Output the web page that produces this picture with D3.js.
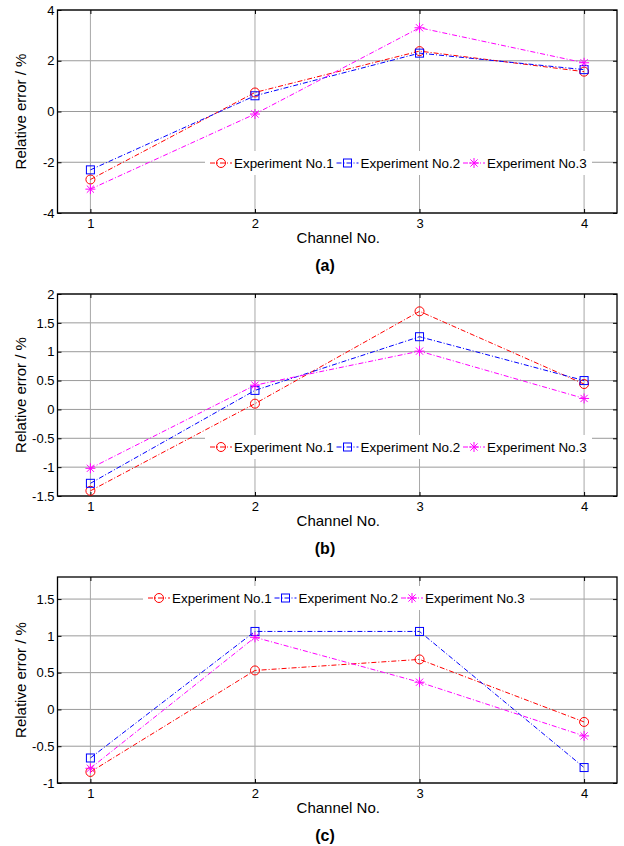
<!DOCTYPE html>
<html>
<head>
<meta charset="utf-8">
<script src="https://cdn.jsdelivr.net/npm/d3@7/dist/d3.min.js"></script>
<style>
  html, body { margin: 0; padding: 0; background: #fff; }
  svg { display: block; }
  text { font-family: "Liberation Sans", Arial, sans-serif; fill: #000; }
</style>
</head>
<body>
<svg id="chart" width="624" height="846"></svg>
<script>
// ---- data ----
const channels = [1, 2, 3, 4];
const xTicks = [1, 2, 3, 4];
const seriesNames = ["Experiment No.1", "Experiment No.2", "Experiment No.3"];
const captions = ["(a)", "(b)", "(c)"];

const a_exp1 = [-2.68, 0.75, 2.38, 1.57];
const a_exp2 = [-2.30, 0.62, 2.30, 1.65];
const a_exp3 = [-3.06, -0.10, 3.30, 1.92];

const b_exp1 = [-1.41, 0.10, 1.70, 0.44];
const b_exp2 = [-1.28, 0.33, 1.26, 0.50];
const b_exp3 = [-1.02, 0.42, 1.01, 0.19];

const c_exp1 = [-0.85, 0.53, 0.68, -0.17];
const c_exp2 = [-0.66, 1.06, 1.06, -0.79];
const c_exp3 = [-0.80, 0.98, 0.37, -0.36];

const a_yTicks = [-4, -2, 0, 2, 4];
const b_yTicks = [-1.5, -1, -0.5, 0, 0.5, 1, 1.5, 2];
const c_yTicks = [-1, -0.5, 0, 0.5, 1, 1.5];

const a_yDomain = [-4, 4];
const b_yDomain = [-1.5, 2];
const c_yDomain = [-1, 1.8];
const xDomain = [0.8, 4.2];

// ---- layout / style ----
const colors = ["#ff0000", "#0000ff", "#ff00ff"];
const markers = ["circle", "square", "star"];
const panels = [
  { series: [a_exp1, a_exp2, a_exp3], yTicks: a_yTicks, yDomain: a_yDomain, top: 10, bottom: 213, legendX: 205, legendY: 163 },
  { series: [b_exp1, b_exp2, b_exp3], yTicks: b_yTicks, yDomain: b_yDomain, top: 294, bottom: 496, legendX: 205, legendY: 447 },
  { series: [c_exp1, c_exp2, c_exp3], yTicks: c_yTicks, yDomain: c_yDomain, top: 577, bottom: 783, legendX: 143, legendY: 598 }
];
const left = 57.5, right = 617;

const svg = d3.select("#chart");

function drawMarker(g, type, x, y, color) {
  if (type === "circle") {
    g.append("circle").attr("cx", x).attr("cy", y).attr("r", 4.5)
      .attr("fill", "none").attr("stroke", color).attr("stroke-width", 1);
  } else if (type === "square") {
    g.append("rect").attr("x", x - 4).attr("y", y - 4).attr("width", 8).attr("height", 8)
      .attr("fill", "none").attr("stroke", color).attr("stroke-width", 1);
  } else {
    const r = 5, d = r * 0.72;
    const p = `M${x - r},${y}L${x + r},${y}M${x},${y - r}L${x},${y + r}` +
              `M${x - d},${y - d}L${x + d},${y + d}M${x - d},${y + d}L${x + d},${y - d}`;
    g.append("path").attr("d", p).attr("fill", "none").attr("stroke", color).attr("stroke-width", 1);
  }
}

const fmt = d => (d < 0 ? "-" : "") + String(Math.abs(d));

panels.forEach((P, pi) => {
  const x = d3.scaleLinear().domain(xDomain).range([left, right]);
  const y = d3.scaleLinear().domain(P.yDomain).range([P.bottom, P.top]);
  const g = svg.append("g");

  // grid
  g.append("g").selectAll("line").data(P.yTicks).join("line")
    .attr("x1", left).attr("x2", right)
    .attr("y1", d => y(d)).attr("y2", d => y(d))
    .attr("stroke", "#9a9a9a").attr("stroke-width", 1);
  g.append("g").selectAll("line").data(xTicks).join("line")
    .attr("x1", d => x(d)).attr("x2", d => x(d))
    .attr("y1", P.top).attr("y2", P.bottom)
    .attr("stroke", "#a8a8a8").attr("stroke-width", 1);

  // axes (inward ticks)
  const ax = g.append("g").attr("transform", `translate(0,${P.bottom})`)
    .call(d3.axisBottom(x).tickValues(xTicks).tickSizeInner(-4).tickSizeOuter(0).tickPadding(6).tickFormat(d3.format("d")));
  const axT = g.append("g").attr("transform", `translate(0,${P.top})`)
    .call(d3.axisTop(x).tickValues(xTicks).tickSizeInner(-4).tickSizeOuter(0).tickFormat(""));
  const ay = g.append("g").attr("transform", `translate(${left},0)`)
    .call(d3.axisLeft(y).tickValues(P.yTicks).tickSizeInner(-4).tickSizeOuter(0).tickPadding(3).tickFormat(fmt));
  const ayR = g.append("g").attr("transform", `translate(${right},0)`)
    .call(d3.axisRight(y).tickValues(P.yTicks).tickSizeInner(-4).tickSizeOuter(0).tickFormat(""));
  [ax, axT, ay, ayR].forEach(a => {
    a.select(".domain").remove();
    a.selectAll("line").attr("stroke", "#000");
    a.selectAll("text").attr("font-size", 13).attr("font-family", "Liberation Sans, Arial, sans-serif").attr("fill", "#000");
  });

  // box
  g.append("rect").attr("x", left).attr("y", P.top).attr("width", right - left).attr("height", P.bottom - P.top)
    .attr("fill", "none").attr("stroke", "#000").attr("stroke-width", 1.3);

  // series
  const line = d3.line().x((d, i) => x(channels[i])).y(d => y(d));
  P.series.forEach((vals, si) => {
    const sg = g.append("g");
    sg.append("path").datum(vals).attr("d", line)
      .attr("fill", "none").attr("stroke", colors[si]).attr("stroke-width", 1)
      .attr("stroke-dasharray", "5,2,1,2");
    vals.forEach((v, i) => drawMarker(sg, markers[si], x(channels[i]), y(v), colors[si]));
  });

  // legend
  const lg = g.append("g").attr("transform", `translate(${P.legendX},${P.legendY})`);
  lg.append("rect").attr("x", 0).attr("y", -12).attr("width", 387).attr("height", 24).attr("fill", "#fff");
  seriesNames.forEach((name, si) => {
    const ox = 5 + si * 126.5;
    lg.append("line").attr("x1", ox).attr("x2", ox + 22).attr("y1", 0).attr("y2", 0)
      .attr("stroke", colors[si]).attr("stroke-width", 1).attr("stroke-dasharray", "5,2,1,2");
    drawMarker(lg, markers[si], ox + 11, 0, colors[si]);
    lg.append("text").attr("x", ox + 24).attr("y", 0).attr("dy", "0.36em")
      .attr("font-size", 13.4).text(name);
  });

  // axis labels
  g.append("text").attr("x", (left + right) / 2 + 1).attr("y", P.bottom + 25).attr("dy", "0.36em")
    .attr("text-anchor", "middle").attr("font-size", 15).text("Channel No.");
  g.append("text").attr("transform", `translate(21,${(P.top + P.bottom) / 2}) rotate(-90)`)
    .attr("dy", "0.36em").attr("text-anchor", "middle").attr("font-size", 15).text("Relative error / %");
  g.append("text").attr("x", 325).attr("y", P.bottom + 52).attr("dy", "0.36em")
    .attr("text-anchor", "middle").attr("font-size", 16).attr("font-weight", "bold").text(captions[pi]);
});
</script>
</body>
</html>
